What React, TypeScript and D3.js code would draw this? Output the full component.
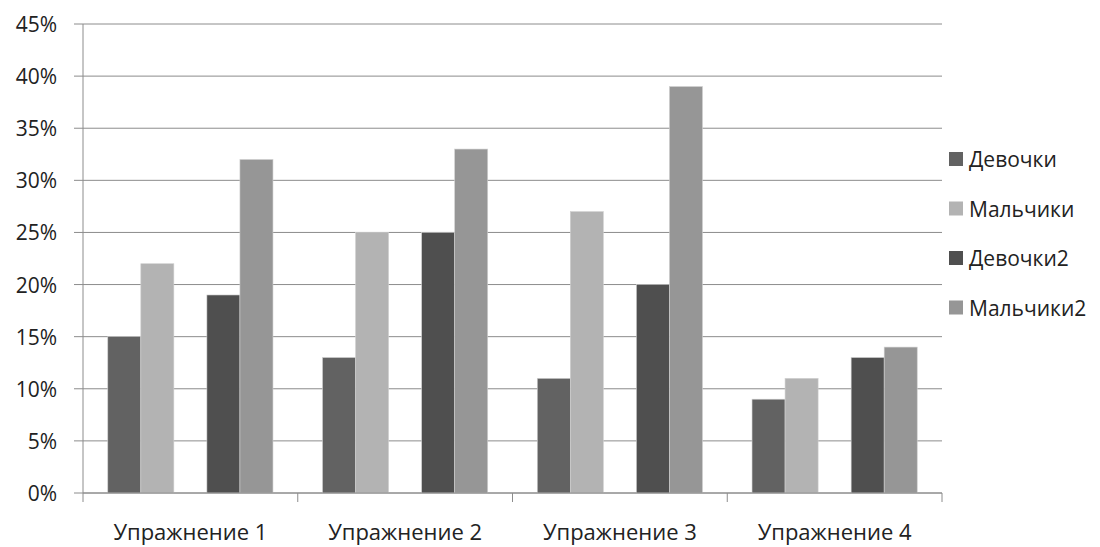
import React from "react";
import * as d3 from "d3";

// Exercise categories and share of pupils per group
const categories = ["Упражнение 1", "Упражнение 2", "Упражнение 3", "Упражнение 4"];
const seriesNames = ["Девочки", "Мальчики", "Девочки2", "Мальчики2"];
const girls = [0.15, 0.13, 0.11, 0.09];
const boys = [0.22, 0.25, 0.27, 0.11];
const girls2 = [0.19, 0.25, 0.2, 0.13];
const boys2 = [0.32, 0.33, 0.39, 0.14];
const yTicks = [0, 0.05, 0.1, 0.15, 0.2, 0.25, 0.3, 0.35, 0.4, 0.45];

const seriesColors = ["#626262", "#b3b3b3", "#4f4f4f", "#969696"];
// Slot index per series inside a group; slot 2 is an unused (blank) series
const seriesSlots = [0, 1, 3, 4];
const slotCount = 5;

const W = 1100;
const H = 547;
const left = 83;
const right = 942;
const top = 24;
const bottom = 493;
const FONT = "'Open Sans', sans-serif";

export default function App() {
  const series = [girls, boys, girls2, boys2];
  const x = d3.scaleBand<string>().domain(categories).range([left, right]).paddingInner(0).paddingOuter(0);
  const inner = d3
    .scaleBand<number>()
    .domain(d3.range(slotCount))
    .range([0, x.bandwidth()])
    .paddingOuter(0.75)
    .paddingInner(0);
  const y = d3.scaleLinear().domain([0, 0.45]).range([bottom, top]);
  const fmt = d3.format(".0%");

  return (
    <svg width={W} height={H} style={{ position: "absolute", left: 0, top: 0, background: "#fff" }}>
      {/* gridlines with left tick marks */}
      {yTicks.map((t) => (
        <line key={"g" + t} x1={left - 9} x2={right} y1={y(t)} y2={y(t)} stroke="#8c8c8c" strokeWidth={1} />
      ))}
      {yTicks.map((t) => (
        <text
          key={"l" + t}
          x={57}
          y={y(t) + 8}
          textAnchor="end"
          fontFamily={FONT}
          fontSize={21}
          fill="#222"
        >
          {fmt(t)}
        </text>
      ))}
      {/* bars */}
      {series.map((vals, si) =>
        vals.map((v, ci) => {
          const bx = (x(categories[ci]) as number) + (inner(seriesSlots[si]) as number);
          return (
            <rect
              key={si + "-" + ci}
              x={bx}
              y={y(v)}
              width={inner.bandwidth()}
              height={bottom - y(v)}
              fill={seriesColors[si]}
              stroke="#d0d0d0"
              strokeWidth={0.6}
            />
          );
        })
      )}
      {/* axes */}
      <line x1={left} x2={left} y1={top} y2={bottom} stroke="#8c8c8c" />
      <line x1={left} x2={right} y1={bottom} y2={bottom} stroke="#8c8c8c" />
      {[...categories.map((c) => x(c) as number), right].map((px, i) => (
        <line key={"t" + i} x1={px} x2={px} y1={bottom} y2={bottom + 9} stroke="#8c8c8c" />
      ))}
      {categories.map((c) => (
        <text
          key={c}
          x={(x(c) as number) + x.bandwidth() / 2}
          y={540}
          textAnchor="middle"
          fontFamily={FONT}
          fontSize={22}
          fill="#222"
        >
          {c}
        </text>
      ))}
      {/* legend */}
      {seriesNames.map((n, i) => {
        const cy = 159 + i * 49.5;
        return (
          <g key={n}>
            <rect x={949} y={cy - 7} width={14} height={14} fill={seriesColors[i]} />
            <text x={969} y={cy + 8} fontFamily={FONT} fontSize={21} fill="#222">
              {n}
            </text>
          </g>
        );
      })}
    </svg>
  );
}
